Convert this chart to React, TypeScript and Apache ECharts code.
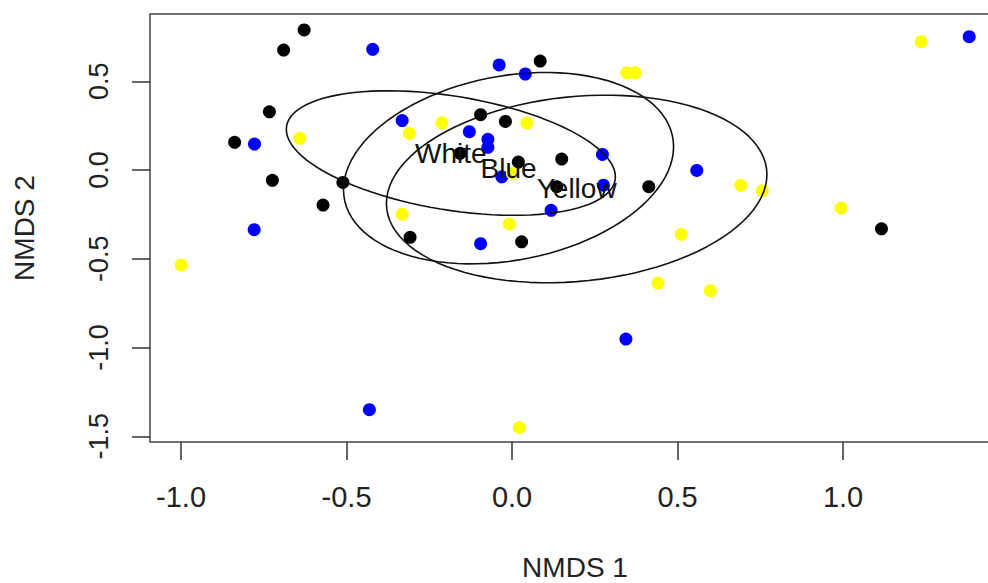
import React, { useEffect, useRef } from "react";
import * as echarts from "echarts";

// NMDS scores, one list per group
const groupNames = ["White", "Blue", "Yellow"];
const groupColors = ["#000000", "#0000FF", "#FFFF00"];

const whitePoints: [number, number][] = [
  [-0.628, 0.789], [-0.69, 0.676], [-0.733, 0.328], [-0.838, 0.156],
  [-0.724, -0.058], [-0.511, -0.07], [-0.571, -0.197], [-0.308, -0.379],
  [0.085, 0.614], [-0.095, 0.312], [-0.02, 0.274], [-0.157, 0.094],
  [0.019, 0.045], [0.15, 0.062], [0.135, -0.094], [0.413, -0.094],
  [0.029, -0.404], [1.116, -0.331],
];
const bluePoints: [number, number][] = [
  [-0.421, 0.68], [-0.778, 0.146], [-0.779, -0.336], [-0.431, -1.35],
  [-0.332, 0.279], [-0.129, 0.216], [-0.073, 0.173], [-0.073, 0.128],
  [-0.039, 0.592], [0.04, 0.541], [-0.031, -0.038], [0.273, 0.088],
  [0.276, -0.085], [0.118, -0.227], [-0.095, -0.415], [0.344, -0.952],
  [0.558, -0.002], [1.381, 0.751],
];
const yellowPoints: [number, number][] = [
  [-0.641, 0.179], [-0.999, -0.535], [-0.31, 0.206], [-0.212, 0.266],
  [0.045, 0.265], [0.001, -0.019], [-0.332, -0.249], [-0.008, -0.304],
  [0.347, 0.548], [0.372, 0.548], [0.022, -1.451], [0.441, -0.637],
  [0.599, -0.68], [0.511, -0.362], [0.691, -0.086], [0.756, -0.117],
  [0.994, -0.214], [1.236, 0.723],
];
const groupPoints = [whitePoints, bluePoints, yellowPoints];

const xTicks = [-1.0, -0.5, 0.0, 0.5, 1.0];
const yTicks = [-1.5, -1.0, -0.5, 0.0, 0.5];
const xTitle = "NMDS 1";
const yTitle = "NMDS 2";

// centroid and 1-sd covariance ellipse (as vegan::ordiellipse, kind = "sd")
function centroid(pts: [number, number][]): [number, number] {
  let sx = 0, sy = 0;
  pts.forEach(([x, y]) => { sx += x; sy += y; });
  return [sx / pts.length, sy / pts.length];
}
function sdEllipse(pts: [number, number][], npoints = 100): [number, number][] {
  const [mx, my] = centroid(pts);
  const n = pts.length;
  let a = 0, b = 0, c = 0;
  pts.forEach(([x, y]) => {
    a += (x - mx) * (x - mx);
    b += (x - mx) * (y - my);
    c += (y - my) * (y - my);
  });
  a /= n - 1; b /= n - 1; c /= n - 1;
  const r11 = Math.sqrt(a);
  const r12 = b / r11;
  const r22 = Math.sqrt(c - r12 * r12);
  const out: [number, number][] = [];
  for (let i = 0; i <= npoints; i++) {
    const t = (i * 2 * Math.PI) / npoints;
    const ct = Math.cos(t), st = Math.sin(t);
    out.push([mx + ct * r11, my + ct * r12 + st * r22]);
  }
  return out;
}

const FONT = "'Liberation Sans', Arial, Helvetica, sans-serif";

export default function App() {
  const ref = useRef<HTMLDivElement>(null);
  useEffect(() => {
    if (!ref.current) return;
    const chart = echarts.init(ref.current, undefined, { renderer: "svg" });
    const series: any[] = [];
    groupPoints.forEach((pts, i) => {
      series.push({
        type: "scatter",
        name: groupNames[i] + " points",
        data: pts,
        symbol: "circle",
        symbolSize: 13,
        itemStyle: { color: groupColors[i], opacity: 1 },
        z: 2,
      });
    });
    groupPoints.forEach((pts, i) => {
      series.push({
        type: "line",
        name: groupNames[i] + " ellipse",
        data: sdEllipse(pts),
        showSymbol: false,
        symbol: "none",
        smooth: false,
        silent: true,
        lineStyle: { color: "#111", width: 1.6 },
        z: 3,
      });
    });
    groupPoints.forEach((pts, i) => {
      series.push({
        type: "scatter",
        name: groupNames[i] + " label",
        data: [centroid(pts)],
        symbol: "circle",
        symbolSize: 1,
        itemStyle: { color: "rgba(0,0,0,0)" },
        silent: true,
        label: {
          show: true,
          position: "inside",
          formatter: groupNames[i],
          fontFamily: FONT,
          fontSize: 28,
          color: "#111",
          opacity: 1,
          textBorderWidth: 0,
        },
        z: 4,
      });
    });

    chart.setOption({
      animation: false,
      backgroundColor: "#ffffff",
      grid: {
        left: 150,
        top: 14,
        width: 850,
        height: 428,
        show: true,
        borderColor: "#444",
        borderWidth: 1.5,
        backgroundColor: "transparent",
        containLabel: false,
        outerBoundsMode: "none",
      },
      xAxis: {
        type: "value",
        min: -1.0937,
        max: 1.474,
        axisLine: { show: false, onZero: false },
        splitLine: { show: false },
        axisTick: {
          show: true,
          length: 18,
          customValues: xTicks,
          lineStyle: { color: "#333", width: 1.5 },
        },
        axisLabel: {
          customValues: xTicks,
          formatter: (v: number) => v.toFixed(1),
          fontFamily: FONT,
          fontSize: 29,
          color: "#222",
          margin: 40,
        },
        name: xTitle,
        nameLocation: "middle",
        nameGap: 111,
        nameTextStyle: { fontFamily: FONT, fontSize: 28, lineHeight: 28, color: "#222" },
      },
      yAxis: {
        type: "value",
        min: -1.532,
        max: 0.879,
        axisLine: { show: false, onZero: false },
        splitLine: { show: false },
        axisTick: {
          show: true,
          length: 18,
          customValues: yTicks,
          lineStyle: { color: "#333", width: 1.5 },
        },
        axisLabel: {
          customValues: yTicks,
          formatter: (v: number) => v.toFixed(1),
          rotate: 90,
          fontFamily: FONT,
          fontSize: 27,
          color: "#222",
          margin: 38,
        },
        name: yTitle,
        nameLocation: "middle",
        nameRotate: 90,
        nameGap: 112,
        nameTextStyle: { fontFamily: FONT, fontSize: 28, color: "#222" },
      },
      series,
    });
    return () => chart.dispose();
  }, []);
  return (
    <div
      ref={ref}
      style={{ position: "absolute", left: 0, top: 0, width: 988, height: 583, background: "#fff" }}
    />
  );
}
